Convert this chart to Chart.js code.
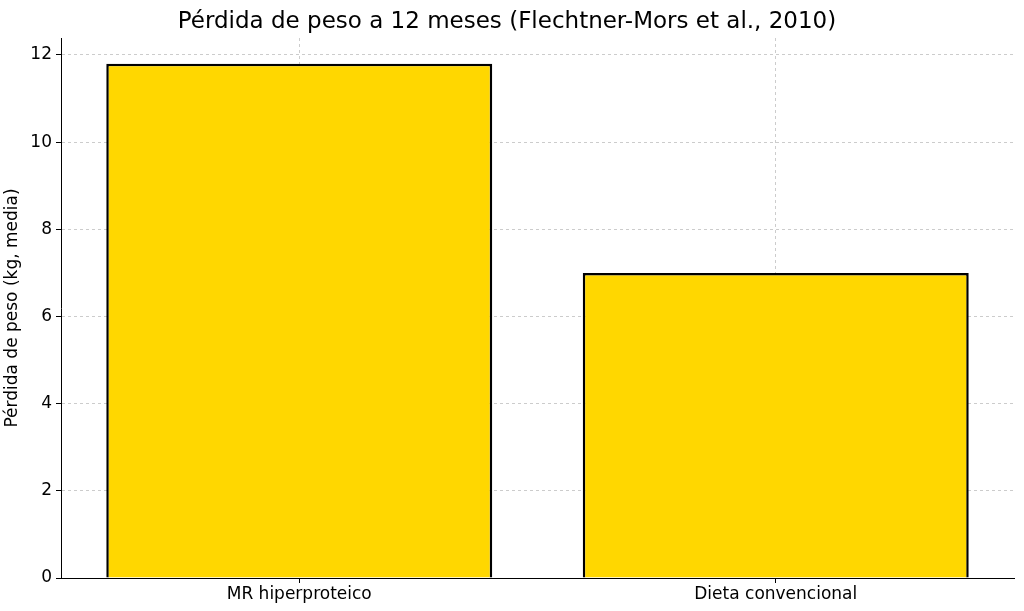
<!DOCTYPE html>
<html><head><meta charset="utf-8">
<script src="https://cdn.jsdelivr.net/npm/chart.js@4"></script>
<style>html,body{margin:0;padding:0;background:#fff}#w{width:1024px;height:611px}</style>
</head><body><div id="w"><canvas id="c"></canvas></div>
<script>
const categories = ["MR hiperproteico", "Dieta convencional"];
const weightLoss = [11.8, 7.0];
const yTicks = [0, 2, 4, 6, 8, 10, 12];

Chart.defaults.font.family = "'DejaVu Sans', sans-serif";
Chart.defaults.color = "#000";
new Chart(document.getElementById('c'), {
  type: 'bar',
  data: { labels: categories, datasets: [{
    data: weightLoss, backgroundColor: '#FFD700', borderColor: '#000', borderWidth: 2.5,
    barPercentage: 0.81, categoryPercentage: 1.0 }] },
  options: {
    responsive: true, maintainAspectRatio: false, animation: false,
    layout: { padding: { left: 0, right: 10, top: 0, bottom: 0 } },
    plugins: {
      legend: { display: false }, tooltip: { enabled: false },
      title: { display: true, text: 'Pérdida de peso a 12 meses (Flechtner-Mors et al., 2010)',
        font: { size: 23, weight: 'normal', lineHeight: 1.2 }, color: '#000', padding: { top: 8, bottom: 2.4 } }
    },
    scales: {
      x: {
        grid: { offset: false, color: '#ccc', tickColor: '#000', tickLength: 5, drawOnChartArea: true },
        border: { color: '#000', width: 1, dash: [3, 3] },
        ticks: { font: { size: 17 }, color: '#000', padding: 1 },
        afterFit: s => { s.height = 33; }
      },
      y: {
        min: 0, max: 12.39,
        afterBuildTicks: s => { s.ticks = yTicks.map(v => ({ value: v })); },
        grid: { color: '#ccc', tickColor: '#000', tickLength: 5 },
        border: { color: '#000', width: 1, dash: [3, 3] },
        ticks: { font: { size: 17 }, color: '#000', padding: 4 },
        title: { display: true, text: 'Pérdida de peso (kg, media)', font: { size: 17 }, color: '#000', padding: 2 },
        afterFit: s => { s.width = 61; }
      }
    }
  }
});
</script></body></html>
